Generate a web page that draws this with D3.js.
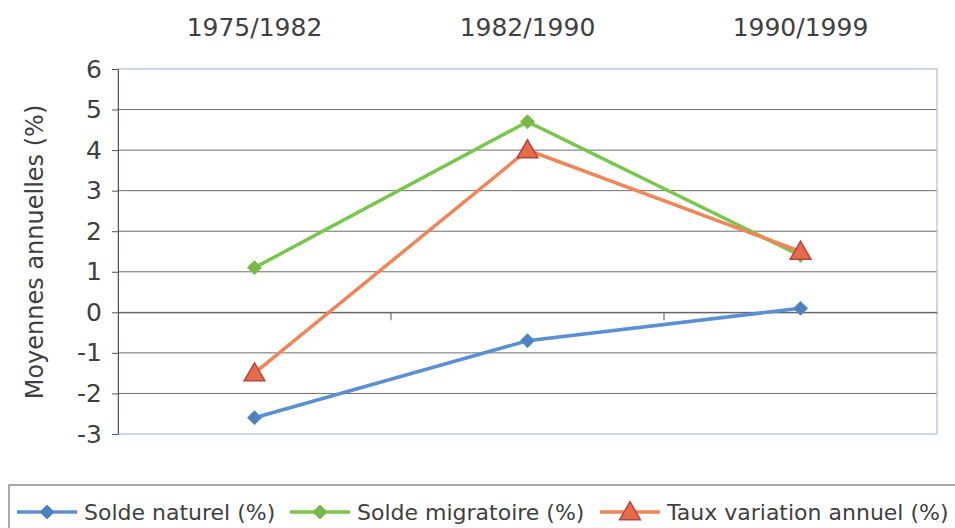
<!DOCTYPE html>
<html>
<head>
<meta charset="utf-8">
<script src="https://cdn.jsdelivr.net/npm/d3@7"></script>
<style>
  body { margin: 0; background: #fff; }
  text { font-family: "DejaVu Sans", sans-serif; fill: #404040; }
</style>
</head>
<body>
<svg id="chart" width="955" height="528"></svg>
<script>
let periodes = ["1975/1982", "1982/1990", "1990/1999"]
let soldeNaturel = [-2.6, -0.7, 0.1]
let soldeMigratoire = [1.1, 4.7, 1.4]
let tauxVariation = [-1.5, 4.0, 1.5]
let yTicks = [6, 5, 4, 3, 2, 1, 0, -1, -2, -3]

let series = [
  {name: "Solde naturel (%)", values: soldeNaturel, color: "#5a8fd6", mark: "diamond", fill: "#4f81bd"},
  {name: "Solde migratoire (%)", values: soldeMigratoire, color: "#77c74a", mark: "diamond", fill: "#7ab648"},
  {name: "Taux variation annuel (%)", values: tauxVariation, color: "#f28557", mark: "triangle", fill: "#e46c4a"}
]

let svg = d3.select("#chart")
let plotL = 118, plotR = 937, plotT = 69, plotB = 434

let x = d3.scaleBand().domain(periodes).range([plotL, plotR])
let y = d3.scaleLinear().domain([-3, 6]).range([plotB, plotT])

// grid
svg.selectAll("line.grid")
   .data(yTicks.filter(d => d > -3 && d < 6))
   .enter()
   .append("line")
   .attr("class", "grid")
   .attr("x1", plotL).attr("x2", plotR)
   .attr("y1", d => y(d)).attr("y2", d => y(d))
   .attr("stroke", "#6e6e6e").attr("stroke-width", 1)

// plot border
svg.append("rect")
   .attr("x", plotL).attr("y", plotT)
   .attr("width", plotR - plotL).attr("height", plotB - plotT)
   .attr("fill", "none").attr("stroke", "#a9bcdc").attr("stroke-width", 1.2)

// y axis
let yAxis = svg.append("g")
   .attr("transform", `translate(${plotL},0)`)
   .call(d3.axisLeft(y).tickValues(yTicks).tickSize(6).tickFormat(d => String(d)))
yAxis.select(".domain").attr("stroke", "#555")
yAxis.selectAll(".tick line").attr("stroke", "#555")
yAxis.selectAll("text").attr("font-size", 25).attr("fill", "#404040")
     .attr("font-family", "DejaVu Sans").attr("x", -16)

// x axis ticks on zero line
let zeroAxis = svg.append("g")
   .attr("transform", `translate(0,${y(0)})`)
   .call(d3.axisBottom(x).tickSize(0).tickFormat(""))
zeroAxis.select(".domain").attr("stroke", "#555")
svg.selectAll("line.xtick")
   .data(periodes.slice(1))
   .enter()
   .append("line")
   .attr("x1", d => x(d)).attr("x2", d => x(d))
   .attr("y1", y(0)).attr("y2", y(0) + 8)
   .attr("stroke", "#555")

// category labels on top
svg.selectAll("text.cat")
   .data(periodes)
   .enter()
   .append("text")
   .attr("x", d => x(d) + x.bandwidth() / 2)
   .attr("y", 36)
   .attr("text-anchor", "middle")
   .attr("font-size", 25)
   .text(d => d)

// y title
svg.append("text")
   .attr("transform", "translate(43,252) rotate(-90)")
   .attr("text-anchor", "middle")
   .attr("font-size", 24)
   .text("Moyennes annuelles (%)")

let cx = d => x(d) + x.bandwidth() / 2
let line = d3.line().x(d => cx(d.p)).y(d => y(d.v))

let drawMark = (g, s, px, py, size) => {
  if (s.mark === "diamond") {
    g.append("path")
     .attr("d", `M${px},${py - size}L${px + size},${py}L${px},${py + size}L${px - size},${py}Z`)
     .attr("fill", s.fill).attr("stroke", s.color).attr("stroke-width", 1)
  } else {
    let h = size * 1.9
    g.append("path")
     .attr("d", `M${px},${py - h * 0.6}L${px + size * 1.15},${py + h * 0.45}L${px - size * 1.15},${py + h * 0.45}Z`)
     .attr("fill", s.fill).attr("stroke", "#b9433f").attr("stroke-width", 1.5)
  }
}

series.forEach(s => {
  let pts = periodes.map((p, i) => ({p: p, v: s.values[i]}))
  let g = svg.append("g")
  g.append("path")
   .datum(pts)
   .attr("d", line)
   .attr("fill", "none")
   .attr("stroke", s.color)
   .attr("stroke-width", 3.5)
  pts.forEach(d => drawMark(g, s, cx(d.p), y(d.v), s.mark === "diamond" ? 7 : 9))
})

// legend
svg.append("rect")
   .attr("x", 9).attr("y", 485).attr("width", 960).attr("height", 60)
   .attr("fill", "none").attr("stroke", "#555").attr("stroke-width", 1)

let legendX = [17, 290, 600]
series.forEach((s, i) => {
  let g = svg.append("g")
  let lx = legendX[i]
  g.append("line")
   .attr("x1", lx).attr("x2", lx + 60)
   .attr("y1", 512).attr("y2", 512)
   .attr("stroke", s.color).attr("stroke-width", 3.5)
  drawMark(g, s, lx + 30, 512, s.mark === "diamond" ? 7 : 9)
  g.append("text")
   .attr("x", lx + 67).attr("y", 520)
   .attr("font-size", 22)
   .text(s.name)
})
</script>
</body>
</html>
